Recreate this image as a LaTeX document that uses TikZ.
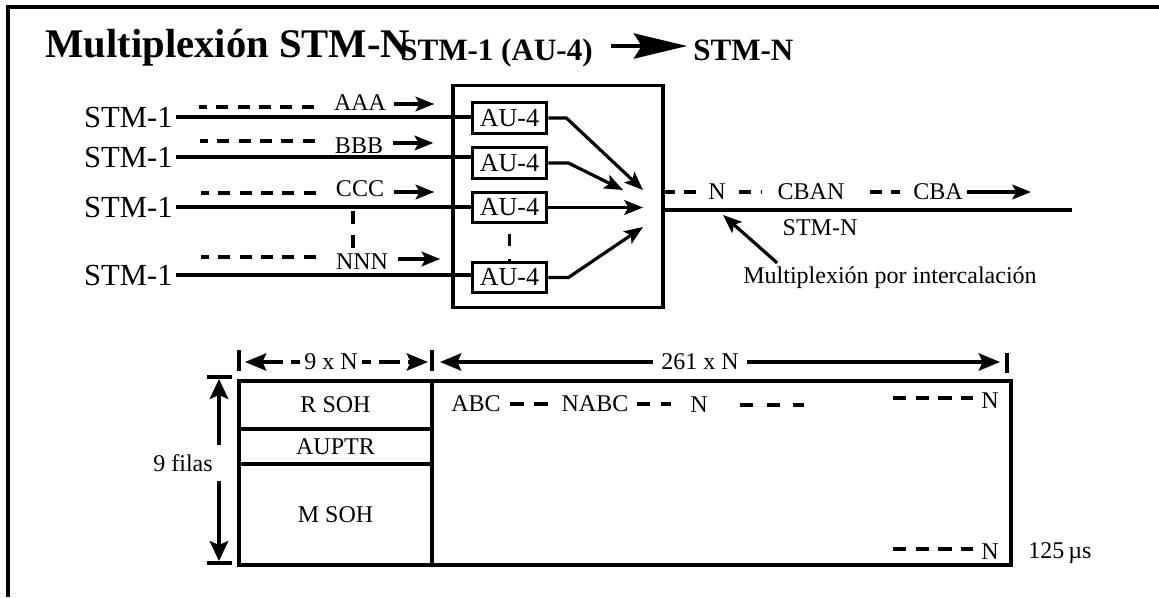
\documentclass[tikz,border=0pt]{standalone}
\usepackage{fontspec}
\setmainfont{Liberation Serif}
\usetikzlibrary{arrows.meta,positioning,calc}
\tikzset{
  titletext/.style={
    font=\fontsize{30.5}{33}\selectfont\bfseries,
    inner sep=0pt,
    anchor=base west
  },
  subtitletext/.style={
    font=\fontsize{23.3}{26}\selectfont\bfseries,
    inner sep=0pt,
    anchor=base west
  },
  stmlabel/.style={
    font=\fontsize{23}{26}\selectfont,
    inner sep=0pt,
    anchor=east
  },
  smalltext/.style={
    font=\fontsize{18}{20}\selectfont,
    inner sep=0pt
  },
  aublock/.style={
    draw,
    line width=2.4pt,
    minimum width=56pt,
    minimum height=23pt,
    inner sep=0pt,
    font=\fontsize{19.5}{22}\selectfont
  },
  muxblock/.style={
    draw,
    line width=2.4pt,
    minimum width=157.5pt,
    minimum height=166pt,
    inner sep=0pt
  },
  framecell/.style={
    draw,
    line width=2.4pt,
    minimum width=144.75pt,
    inner sep=0pt,
    font=\fontsize{18}{20}\selectfont
  },
  sigline/.style={
    line width=2.4pt
  },
  sigarrow/.style={
    -{Stealth[length=14pt,width=11pt,inset=3pt]},
    line width=2.4pt
  },
  bigarrow/.style={
    -{Stealth[length=40pt,width=19pt,inset=6pt]},
    line width=2.4pt
  },
  dashrow/.style={
    line width=2.8pt,
    dash pattern=on 9pt off 7pt
  },
  dimarrow/.style={
    {Stealth[length=16pt,width=13pt,inset=3pt]}-{Stealth[length=16pt,width=13pt,inset=3pt]},
    line width=2.4pt
  },
  uparrow/.style={
    -{Stealth[length=15pt,width=14pt,inset=3pt]},
    line width=2.4pt
  }
}

\begin{document}
\begin{tikzpicture}[x=0.75pt,y=-0.75pt]
  \useasboundingbox (0,0) rectangle (1159,597);

  % outer frame
  \coordinate (tl) at (8,7);
  \coordinate (tr) at (1159,7);
  \coordinate (bl) at (8,597);
  \draw[line width=3pt] (bl) -- (tl) -- (tr);

  % title
  \node[titletext] (title) at (45,57) {Multiplexión STM-N};
  \node[subtitletext] (from) at (400,60) {STM-1 (AU-4)};
  \node[subtitletext] (to) at (693,60) {STM-N};
  \coordinate (ba) at (611,46);
  \coordinate (bb) at (687,46);
  \draw[bigarrow] (ba) -- (bb);

  % multiplexer
  \node[muxblock] (mux) at (558,196.5) {};
  \node[aublock] (au1) at (509.5,118) {AU-4};
  \node[aublock] (au2) at (509.5,163) {AU-4};
  \node[aublock] (au3) at (509.5,207.5) {AU-4};
  \node[aublock] (au4) at (509.5,277.5) {AU-4};

  % tributaries
  \node[stmlabel] (in1) at (173,117) {STM-1};
  \node[stmlabel] (in2) at (173,157) {STM-1};
  \node[stmlabel] (in3) at (173,207) {STM-1};
  \node[stmlabel] (in4) at (173,275) {STM-1};
  \draw[sigline, shorten <=2pt] (in1.east) -- (in1.east -| au1.west);
  \draw[sigline, shorten <=2pt] (in2.east) -- (in2.east -| au2.west);
  \draw[sigline, shorten <=2pt] (in3.east) -- (in3.east -| au3.west);
  \draw[sigline, shorten <=2pt] (in4.east) -- (in4.east -| au4.west);

  \node[smalltext] (aaa) at (360,103) {AAA};
  \node[smalltext] (bbb) at (359,146) {BBB};
  \node[smalltext] (ccc) at (360,189) {CCC};
  \node[smalltext] (nnn) at (362,262) {NNN};
  \draw[dashrow] ($(aaa.west)+(-20,4)$) -- ++(-115,0);
  \draw[dashrow] ($(bbb.west)+(-20,-5)$) -- ++(-115,0);
  \draw[dashrow] ($(ccc.west)+(-20,4)$) -- ++(-115,0);
  \draw[dashrow] ($(nnn.west)+(-20,-5)$) -- ++(-115,0);
  \draw[sigarrow] ($(aaa.east)+(8,1)$) -- ++(40,0);
  \draw[sigarrow] ($(bbb.east)+(10,-3)$) -- ++(40,0);
  \draw[sigarrow] ($(ccc.east)+(10,3)$) -- ++(40,0);
  \draw[sigarrow] ($(nnn.east)+(10,-3)$) -- ++(42,0);

  \coordinate (vd1) at (353,211);
  \coordinate (vd2) at (353,250);
  \draw[dashrow, dash pattern=on 10pt off 8pt] (vd1) -- (vd2);
  \draw[dashrow, dash pattern=on 9pt off 10pt] ([yshift=-7pt]au3.south) -- (au4.north);

  % interleaving
  \coordinate (t1) at (643,190);
  \coordinate (t2) at (623,190);
  \coordinate (t3) at (643,207.5);
  \coordinate (t4) at (643,227);
  \draw[sigarrow] (au1.east) -- ++(18,0) -- (t1);
  \draw[sigarrow] (au2.east) -- ++(20,0) -- (t2);
  \draw[sigarrow] (au3.east) -- (t3);
  \draw[sigarrow] (au4.east) -- ++(20,0) -- (t4);

  % STM-N output
  \coordinate (o1) at (663,210);
  \coordinate (o2) at (1072,210);
  \draw[sigline] (o1) -- (o2);
  \node[smalltext] (nout) at (717,192) {N};
  \node[smalltext] (cban) at (811,192) {CBAN};
  \node[smalltext] (cba) at (938,192) {CBA};
  \draw[dashrow] (o1 |- nout) -- ([xshift=-6pt]nout.west);
  \draw[dashrow] ([xshift=10pt]nout.east) -- ++(22,0);
  \draw[dashrow] ([xshift=19pt]cban.east) -- ++(30,0);
  \draw[sigarrow] ([xshift=3pt]cba.east) -- ++(64,0);
  \node[smalltext] (stmn) at (820,228) {STM-N};
  \node[smalltext] (mpi) at (890,278) {Multiplexión por intercalación};
  \coordinate (tp) at (723,215);
  \draw[sigarrow] ($(mpi.north west)+(34,-4)$) -- (tp);

  % STM-N frame
  \node[framecell, minimum height=36pt] (rsoh) at (335.5,405) {R SOH};
  \node[framecell, minimum height=26.25pt] (auptr) at (335.5,446.5) {AUPTR};
  \node[framecell, minimum height=75.75pt] (msoh) at (335.5,514.5) {M SOH};
  \node[framecell, minimum width=434.25pt, minimum height=138pt] (payload) at (721.5,473) {};

  \node[smalltext] (abc) at (476,404) {ABC};
  \node[smalltext] (nabc) at (595,404) {NABC};
  \node[smalltext] (npay) at (699,405) {N};
  \node[smalltext] (ntop) at (990,401) {N};
  \node[smalltext] (nbot) at (990,552) {N};
  \node[smalltext, anchor=west] (tframe) at (1028,553) {125\,µs};
  \draw[dashrow, dash pattern=on 10pt off 8pt] ([xshift=7pt]abc.east) -- ([xshift=-9pt]nabc.west);
  \draw[dashrow, dash pattern=on 10pt off 8pt] ([xshift=6pt]nabc.east) -- ++(34,0);
  \draw[dashrow, dash pattern=on 10pt off 10pt] ([xshift=24pt]npay.east) -- ++(64,0);
  \draw[dashrow, dash pattern=on 10pt off 7pt] ([xshift=-66pt,yshift=2pt]ntop.west) -- ++(80,0);
  \draw[dashrow, dash pattern=on 10pt off 7pt] ([xshift=-66pt,yshift=2pt]nbot.west) -- ++(80,0);

  % dimensions
  \coordinate (k1a) at (239,350);
  \coordinate (k1b) at (239,371);
  \coordinate (k2a) at (432,350);
  \coordinate (k2b) at (432,371);
  \coordinate (k3a) at (1007,353);
  \coordinate (k3b) at (1007,373);
  \draw[sigline] (k1a) -- (k1b);
  \draw[sigline] (k2a) -- (k2b);
  \draw[sigline] (k3a) -- (k3b);

  \coordinate (d9l) at (245,362);
  \coordinate (d9r) at (428,362);
  \draw[dimarrow, dash pattern=on 16pt off 6pt] (d9l) -- (d9r);
  \node[smalltext, fill=white, inner xsep=3pt] (w9) at (331,362) {9 x N};

  \coordinate (d261l) at (440,362);
  \coordinate (d261r) at (1000,362);
  \draw[dimarrow] (d261l) -- (d261r);
  \node[smalltext, fill=white, inner xsep=6pt] (w261) at (700,362) {261 x N};

  \coordinate (r1a) at (207,377);
  \coordinate (r1b) at (232,377);
  \coordinate (r2a) at (207,563);
  \coordinate (r2b) at (232,563);
  \draw[sigline] (r1a) -- (r1b);
  \draw[sigline] (r2a) -- (r2b);
  \node[smalltext] (filas) at (183,463) {9 filas};
  \coordinate (fu1) at (219,445);
  \coordinate (fu2) at (219,379);
  \coordinate (fd1) at (219,481);
  \coordinate (fd2) at (219,561);
  \draw[uparrow] (fu1) -- (fu2);
  \draw[uparrow] (fd1) -- (fd2);
\end{tikzpicture}
\end{document}
